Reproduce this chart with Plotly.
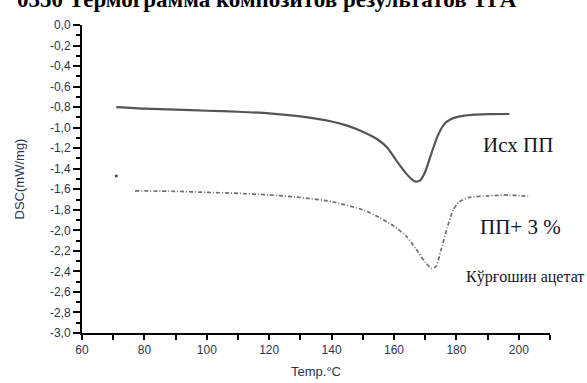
import plotly.graph_objects as go

# Curve 1: original PP (Исх ПП)
pp_temp = [71, 80, 90, 100, 110, 120, 130, 140, 145, 150, 155, 158, 161, 164, 166, 167,
           168.5, 170, 172, 174, 176, 178, 181, 185, 190, 197]
pp_dsc = [-0.80, -0.815, -0.825, -0.835, -0.845, -0.86, -0.89, -0.94, -0.98, -1.04, -1.12,
          -1.20, -1.33, -1.45, -1.51, -1.525, -1.51, -1.43, -1.25, -1.08, -0.97, -0.92,
          -0.89, -0.875, -0.868, -0.867]

# Curve 2: PP + 3 % lead acetate
comp_temp = [77, 90, 100, 110, 120, 130, 140, 150, 155, 160, 164, 167, 170, 172, 173.5,
             175, 177, 179, 181, 184, 190, 197, 203]
comp_dsc = [-1.615, -1.62, -1.63, -1.64, -1.655, -1.68, -1.72, -1.80, -1.87, -1.96, -2.06,
            -2.18, -2.31, -2.37, -2.35, -2.20, -1.98, -1.80, -1.72, -1.68, -1.665, -1.655,
            -1.67]

# Stray dot
dot_temp = [71]
dot_dsc = [-1.47]

y_tickvals = [round(-0.2 * i, 1) for i in range(16)]
y_ticktext = ["0,0", "-0,2", "-0,4", "-0,6", "-0,8", "-1,0", "-1,2", "-1,4", "-1,6", "-1,8",
              "-2,0", "-2,2", "-2,4", "-2,6", "-2,8", "-3,0"]
x_tickvals = [60, 80, 100, 120, 140, 160, 180, 200]
x_ticktext = ["60", "80", "100", "120", "140", "160", "180", "200"]

title_text = "0350 Термограмма композитов результатов ТГА"
label1 = "Исх ПП"
label2 = "ПП+ 3 %"
label3 = "Кўрғошин ацетат"

fig = go.Figure()
fig.add_trace(go.Scatter(x=pp_temp, y=pp_dsc, mode="lines",
                         line=dict(color="#555555", width=2.2, shape="spline", smoothing=0.6),
                         showlegend=False, hoverinfo="skip"))
fig.add_trace(go.Scatter(x=comp_temp, y=comp_dsc, mode="lines",
                         line=dict(color="#6e6e6e", width=1.7, shape="spline", smoothing=0.6,
                                   dash="4px,2px,1px,2px"),
                         showlegend=False, hoverinfo="skip"))
fig.add_trace(go.Scatter(x=dot_temp, y=dot_dsc, mode="markers",
                         marker=dict(color="#444", size=3),
                         showlegend=False, hoverinfo="skip"))

tick_font = dict(family="Liberation Sans, Arial", size=12, color="#2b3550")

fig.update_xaxes(range=[60, 210], tickvals=x_tickvals, ticktext=x_ticktext,
                 showline=True, linecolor="black", linewidth=2, mirror=False,
                 ticks="outside", ticklen=5, tickwidth=2, tickcolor="black",
                 minor=dict(dtick=10, tick0=60, ticks="outside", ticklen=5, tickwidth=2,
                            tickcolor="black"),
                 showgrid=False, zeroline=False, tickfont=tick_font, automargin=False,
                 title=dict(text="Temp.°C", font=dict(family="Liberation Sans, Arial", size=13,
                                                      color="#2b3550"), standoff=10))
fig.update_yaxes(range=[-3.0, 0.0], tickvals=y_tickvals, ticktext=y_ticktext,
                 showline=True, linecolor="black", linewidth=2, mirror=False,
                 ticks="outside", ticklen=7, tickwidth=2, tickcolor="black",
                 minor=dict(dtick=0.1, tick0=0, ticks="outside", ticklen=4, tickwidth=2,
                            tickcolor="black"),
                 showgrid=False, zeroline=False, tickfont=tick_font, automargin=False,
                 title=dict(text="DSC(mW/mg)", font=dict(family="Liberation Sans, Arial",
                                                         size=13, color="#2b3550"), standoff=22))

ann_font = dict(family="Liberation Serif, Times New Roman", size=21, color="#141428")
fig.add_annotation(xref="paper", yref="paper", x=(481 - 82) / 468, y=1 - (145 - 25) / 308,
                   xanchor="left", yanchor="middle", text=label1, showarrow=False, font=ann_font)
fig.add_annotation(xref="paper", yref="paper", x=(478 - 82) / 468, y=1 - (227 - 25) / 308,
                   xanchor="left", yanchor="middle", text=label2, showarrow=False, font=ann_font)
fig.add_annotation(xref="paper", yref="paper", x=(464 - 82) / 468, y=1 - (277 - 25) / 308,
                   xanchor="left", yanchor="middle", text=label3, showarrow=False,
                   font=dict(family="Liberation Serif, Times New Roman", size=16,
                             color="#141428"))
fig.add_annotation(xref="paper", yref="paper", x=(15 - 82) / 468, y=1 + (25 + 0.5) / 308,
                   xanchor="left", yanchor="middle", text="<b>" + title_text + "</b>",
                   showarrow=False,
                   font=dict(family="Liberation Serif, Times New Roman", size=23, color="black"))

fig.update_layout(width=587, height=383, margin=dict(l=82, r=37, t=25, b=50),
                  paper_bgcolor="white", plot_bgcolor="white")

fig.write_html("out.html", config={"displayModeBar": False},
               post_script="document.body.style.margin='0';document.body.style.overflow='hidden';")
